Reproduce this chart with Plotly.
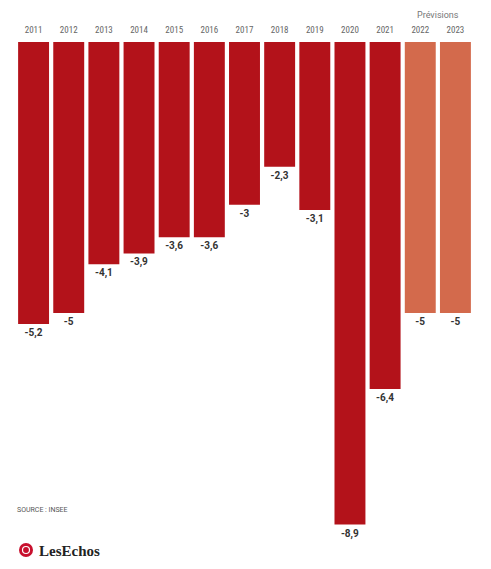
import plotly.graph_objects as go

years = ["2011", "2012", "2013", "2014", "2015", "2016", "2017", "2018", "2019", "2020", "2021", "2022", "2023"]
deficit = [-5.2, -5, -4.1, -3.9, -3.6, -3.6, -3, -2.3, -3.1, -8.9, -6.4, -5, -5]
forecast = [False] * 11 + [True, True]
labels = [("%g" % v).replace(".", ",") for v in deficit]

DARK = "#b3121a"
LIGHT = "#d36a4c"
colors = [LIGHT if f else DARK for f in forecast]

W, H = 491, 569
ML, MR, MT, MB = 16, 18, 42, 0

fig = go.Figure(go.Bar(
    x=years, y=deficit, marker=dict(color=colors, line=dict(width=0)),
    text=labels, texttemplate="<b>%{text}</b>", textposition="outside", cliponaxis=False,
    textfont=dict(family="Roboto, Arial", size=10, color="#333333"),
    hoverinfo="skip",
))

def px_to_paper_x(px):
    return (px - ML) / (W - ML - MR)

def px_to_paper_y(py):
    return (H - MB - py) / (H - MT - MB)

fig.update_layout(
    width=W, height=H,
    margin=dict(l=ML, r=MR, t=MT, b=MB),
    paper_bgcolor="white", plot_bgcolor="white",
    bargap=0.12, showlegend=False,
    xaxis=dict(side="top", showgrid=False, zeroline=False, showline=False, ticks="",
               tickfont=dict(family="Roboto Condensed, Roboto, Arial", size=9, color="#666666"),
               ticklabelstandoff=6),
    yaxis=dict(range=[-9.72, 0], visible=False, showgrid=False, zeroline=False),
    uniformtext=dict(minsize=8, mode="show"),
)

fig.add_annotation(text="Prévisions", x=px_to_paper_x(438), y=px_to_paper_y(15),
                   xref="paper", yref="paper", showarrow=False,
                   font=dict(family="Roboto, Arial", size=9, color="#777777"),
                   xanchor="center", yanchor="middle")

fig.add_annotation(text="SOURCE : INSEE", x=px_to_paper_x(15), y=px_to_paper_y(510),
                   xref="paper", yref="paper", showarrow=False,
                   font=dict(family="Roboto, Arial", size=7, color="#555555"),
                   xanchor="left", yanchor="middle")

# Logo: red disc + wordmark
cx, cy, r = 26, 550, 7
fig.add_shape(type="circle", xref="paper", yref="paper",
              x0=px_to_paper_x(cx - r), x1=px_to_paper_x(cx + r),
              y0=px_to_paper_y(cy + r), y1=px_to_paper_y(cy - r),
              fillcolor="#c8102e", line=dict(width=0))
fig.add_shape(type="circle", xref="paper", yref="paper",
              x0=px_to_paper_x(cx - 3.5), x1=px_to_paper_x(cx + 3.5),
              y0=px_to_paper_y(cy + 3.5), y1=px_to_paper_y(cy - 3.5),
              fillcolor="rgba(0,0,0,0)", line=dict(width=1.2, color="white"))
fig.add_annotation(text="<b>LesEchos</b>", x=px_to_paper_x(37), y=px_to_paper_y(551),
                   xref="paper", yref="paper", showarrow=False,
                   font=dict(family="Liberation Serif, DejaVu Serif, serif", size=15, color="#222222"),
                   xanchor="left", yanchor="middle")

fig.write_html("out.html")
